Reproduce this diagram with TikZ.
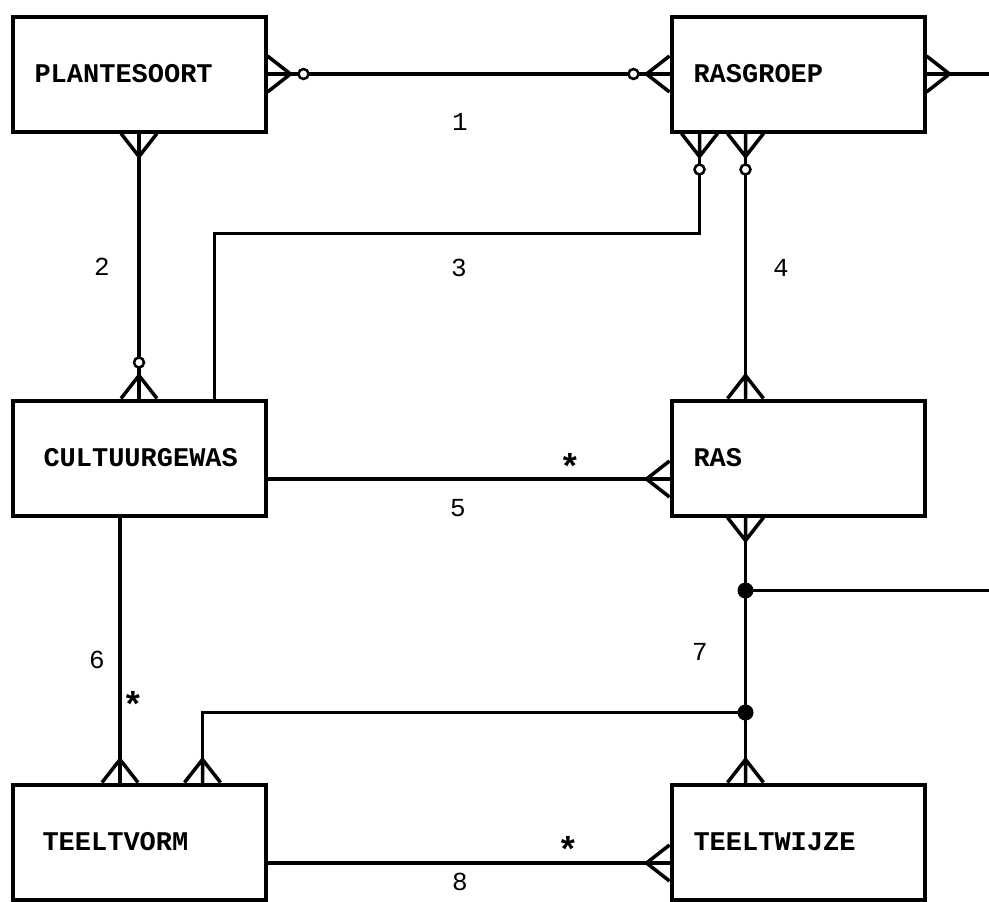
\documentclass[tikz,border=0pt]{standalone}
\usepackage{fontspec}
\newfontfamily\erfont{Liberation Mono}
\usetikzlibrary{calc,positioning}
\tikzset{
  entity/.style={draw,rectangle,line width=4pt,minimum height=115pt,text width=209pt,inner xsep=22pt,align=left,font=\erfont\bfseries\fontsize{27}{30}\selectfont},
  rel/.style={line width=3.5pt},
  lab/.style={font=\erfont\fontsize{26}{28}\selectfont},
  star/.style={font=\erfont\bfseries\fontsize{36}{36}\selectfont},
  dot/.style={circle,fill,inner sep=0pt,minimum size=16pt},
  foot/.pic={\draw[rel,line join=round] (0,-18) -- (23,0) -- (0,18) (0,0) -- (23,0);},
  ofoot/.pic={\draw[rel,line join=round] (0,-18) -- (23,0) -- (0,18) (0,0) -- (23,0);
    \draw[line width=2.5pt,fill=white] (36,0) circle (5);},
}

\begin{document}
\begin{tikzpicture}[x=1pt,y=-1pt]
		\useasboundingbox (0,0) rectangle (989,902);
		\coordinate (rim) at (989,0);
		% entiteiten
		\node[entity] (ps) at (139,74) {PLANTESOORT};
		\node[entity] (rg) at (798,74) {RASGROEP};
		\node[entity] (cg) at (139,458) {\hspace*{9pt}CULTUURGEWAS};
		\node[entity] (ras) at (798,458) {RAS};
		\node[entity] (tv) at (139,842) {\hspace*{8pt}TEELTVORM};
		\node[entity] (tw) at (798,842) {TEELTWIJZE};

		\coordinate (r3) at ($(rg.south west)+(30,0)$);
		\coordinate (r4) at ($(rg.south west)+(76,0)$);
		\coordinate (c3) at ($(cg.north east)+(-53,0)$);
		\coordinate (c6) at ($(cg.south)+(-19,0)$);
		\coordinate (r7) at (r4 |- ras.south);
		\coordinate (t7) at ($(tv.north west)+(192,0)$);
		\node[dot] (d1) at ($(r7)+(0,73)$) {};
		\node[dot] (d2) at ($(r7)+(0,195)$) {};

		% relaties
		\draw[rel] (ps.east) -- (rg.west);
		\draw[rel] (rg.east) -- (rg.east -| rim);
		\draw[rel] (ps.south) -- (cg.north);
		\draw[rel] (r3) -- ++(0,100) -| (c3);
		\draw[rel] (r4) -- (r4 |- ras.north);
		\draw[rel] ([yshift=-21pt]cg.east) -- ([yshift=-21pt]ras.west);
		\draw[rel] (c6) -- (c6 |- tv.north);
		\draw[rel] (r7) -- (d1.center) -- (d2.center) -- (r7 |- tw.north);
		\draw[rel] (d1.center) -- (d1 -| rim);
		\draw[rel] (d2.center) -| (t7);
		\draw[rel] ([yshift=-21pt]tv.east) -- ([yshift=-21pt]tw.west);

		\pic at (ps.east) {ofoot};
		\pic[rotate=180] at (rg.west) {ofoot};
		\pic at (rg.east) {foot};
		\pic[rotate=-90] at (ps.south) {foot};
		\pic[rotate=90] at (cg.north) {ofoot};
		\pic[rotate=-90] at (r3) {ofoot};
		\pic[rotate=-90] at (r4) {ofoot};
		\pic[rotate=90] at (r4 |- ras.north) {foot};
		\pic[rotate=180] at ([yshift=-21pt]ras.west) {foot};
		\pic[rotate=90] at (c6 |- tv.north) {foot};
		\pic[rotate=90] at (t7) {foot};
		\pic[rotate=-90] at (r7) {foot};
		\pic[rotate=90] at (r7 |- tw.north) {foot};
		\pic[rotate=180] at ([yshift=-21pt]tw.west) {foot};

		\node[lab] (n1) at (460,122) {1};
		\node[lab] (n2) at (102,267) {2};
		\node[lab] (n3) at (459,268) {3};
		\node[lab] (n4) at (781,268) {4};
		\node[lab] (n5) at (458,508) {5};
		\node[lab] (n6) at (97,660) {6};
		\node[lab] (n7) at (700,652) {7};
		\node[lab] (n8) at (460,882) {8};
		\node[star] (s5) at (570,466) {*};
		\node[star] (s6) at (133,704) {*};
		\node[star] (s8) at (568,849) {*};
	\end{tikzpicture}
\end{document}
